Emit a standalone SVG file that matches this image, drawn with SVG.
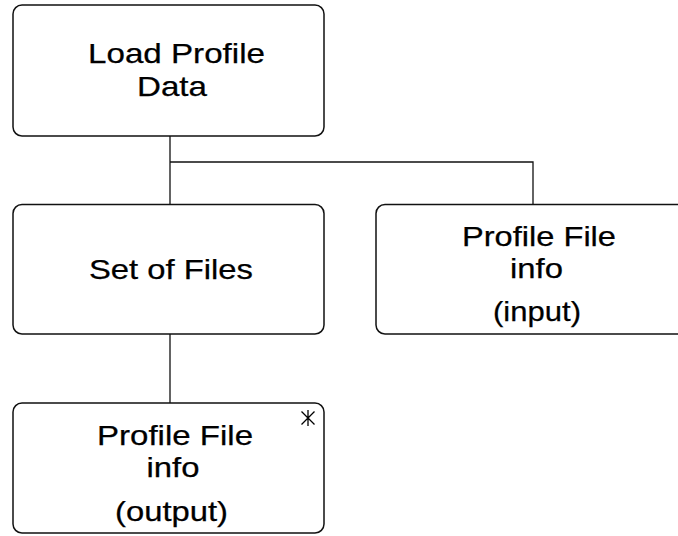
<svg xmlns="http://www.w3.org/2000/svg" width="678" height="536" viewBox="0 0 678 536">
<style>
.box{fill:#fff;stroke:#111;stroke-width:1.5}
.conn{fill:none;stroke:#111;stroke-width:1.3}
.t{font-family:"Liberation Sans",Arial,sans-serif;font-size:28px;fill:#000;stroke:#000;stroke-width:0.25;text-anchor:middle}
.star{stroke:#000;stroke-width:1.3;fill:none}
</style>
<rect width="678" height="536" fill="#fff"/>
<g id="connectors">
<path class="conn" d="M170 136V204M170 162H533V204M170 334V403"/>
</g>
<g id="load-profile-data">
<rect class="box" x="13" y="5" width="311" height="131" rx="9"/>
<text class="t" x="176.5" y="62.5" textLength="177" lengthAdjust="spacingAndGlyphs">Load Profile</text>
<text class="t" x="172" y="95.5" textLength="70" lengthAdjust="spacingAndGlyphs">Data</text>
</g>
<g id="set-of-files">
<rect class="box" x="13" y="204.5" width="311" height="129.5" rx="9"/>
<text class="t" x="171" y="279" textLength="164" lengthAdjust="spacingAndGlyphs">Set of Files</text>
</g>
<g id="profile-file-info-input">
<rect class="box" x="376" y="204.5" width="330" height="129.5" rx="9"/>
<text class="t" x="539" y="245.5" textLength="154" lengthAdjust="spacingAndGlyphs">Profile File</text>
<text class="t" x="536.5" y="278" textLength="53" lengthAdjust="spacingAndGlyphs">info</text>
<text class="t" x="537" y="321" textLength="88" lengthAdjust="spacingAndGlyphs">(input)</text>
</g>
<g id="profile-file-info-output">
<rect class="box" x="13" y="403" width="311" height="130" rx="9"/>
<path class="star" d="M308 410V426M301.5 411.5L314.5 424.5M314.5 411.5L301.5 424.5"/>
<text class="t" x="175" y="444.5" textLength="156" lengthAdjust="spacingAndGlyphs">Profile File</text>
<text class="t" x="173" y="476.5" textLength="53" lengthAdjust="spacingAndGlyphs">info</text>
<text class="t" x="171.5" y="521" textLength="113" lengthAdjust="spacingAndGlyphs">(output)</text>
</g>
</svg>
